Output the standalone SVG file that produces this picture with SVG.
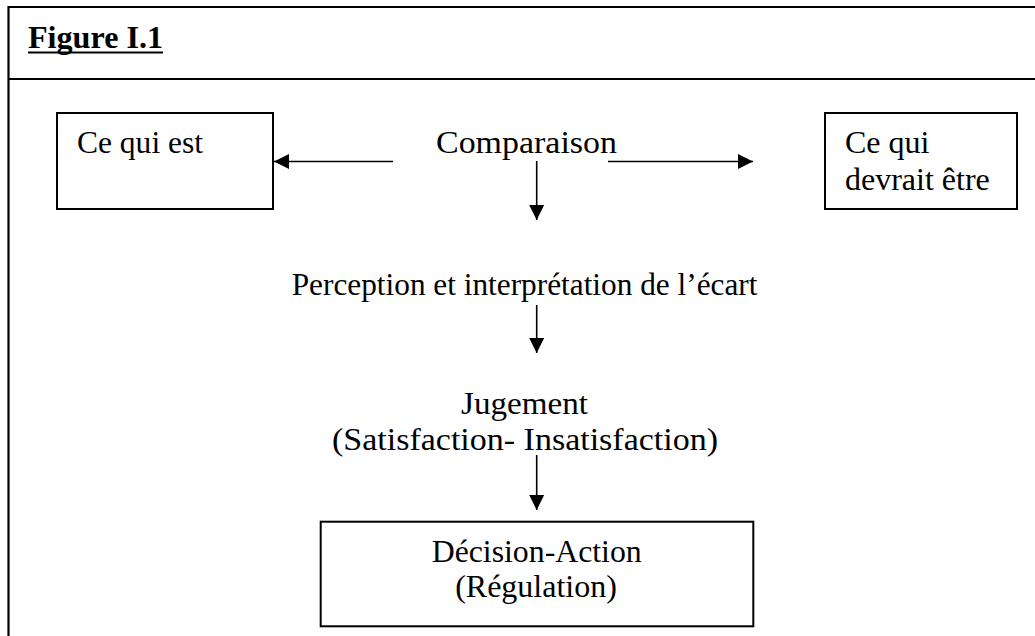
<svg xmlns="http://www.w3.org/2000/svg" width="1035" height="636" viewBox="0 0 1035 636">
<defs>
<style>
.t{font-family:"Liberation Serif","Times New Roman",serif;font-size:32px;fill:#000}
.b{fill:#fff;stroke:#000;stroke-width:2}
.f{stroke:#000;stroke-width:2.2;fill:none}
.c{stroke:#000;stroke-width:1.6;fill:none}
</style>
<marker id="ah" markerWidth="16" markerHeight="16" viewBox="0 0 16 16" refX="15" refY="8" orient="auto" markerUnits="userSpaceOnUse">
<path d="M0,0.5 L15,8 L0,15.5 Z" fill="#000"/>
</marker>
</defs>
<rect width="1035" height="636" fill="#fff"/>
<g id="frame">
<line class="f" x1="8" y1="7" x2="1035" y2="7"/>
<line class="f" x1="8.5" y1="6" x2="8.5" y2="636"/>
<line class="f" x1="8" y1="79" x2="1035" y2="79"/>
</g>
<g id="title">
<text class="t" x="28" y="48" font-weight="bold" textLength="135" lengthAdjust="spacingAndGlyphs">Figure I.1</text>
<line x1="28" y1="52.5" x2="163" y2="52.5" stroke="#000" stroke-width="2"/>
</g>
<g id="connectors">
<line class="c" x1="393" y1="161.5" x2="274" y2="161.5" marker-end="url(#ah)"/>
<line class="c" x1="608" y1="161.5" x2="753" y2="161.5" marker-end="url(#ah)"/>
<line class="c" x1="536.7" y1="161" x2="536.7" y2="220" marker-end="url(#ah)"/>
<line class="c" x1="536.7" y1="305" x2="536.7" y2="353" marker-end="url(#ah)"/>
<line class="c" x1="536.7" y1="455" x2="536.7" y2="510" marker-end="url(#ah)"/>
</g>
<g id="ce-qui-est">
<rect class="b" x="57" y="113" width="216" height="96"/>
<text class="t" x="77" y="153" textLength="126" lengthAdjust="spacingAndGlyphs">Ce qui est</text>
</g>
<g id="comparaison">
<text class="t" x="436" y="153" textLength="181" lengthAdjust="spacingAndGlyphs">Comparaison</text>
</g>
<g id="ce-qui-devrait-etre">
<rect class="b" x="825" y="113" width="192" height="96"/>
<text class="t" x="845" y="153">Ce qui</text>
<text class="t" x="845" y="190">devrait être</text>
</g>
<g id="perception">
<text class="t" x="291.7" y="295" style="font-size:31.3px">Perception et interprétation de l’écart</text>
</g>
<g id="jugement">
<text class="t" x="524.5" y="414" text-anchor="middle" textLength="127" lengthAdjust="spacingAndGlyphs">Jugement</text>
<text class="t" x="525" y="450" text-anchor="middle" textLength="386" lengthAdjust="spacingAndGlyphs">(Satisfaction- Insatisfaction)</text>
</g>
<g id="decision-action">
<rect class="b" x="320.7" y="521.7" width="432.6" height="104.6"/>
<text class="t" x="536.7" y="562" text-anchor="middle" textLength="210" lengthAdjust="spacingAndGlyphs">Décision-Action</text>
<text class="t" x="536" y="597" text-anchor="middle">(Régulation)</text>
</g>
</svg>
